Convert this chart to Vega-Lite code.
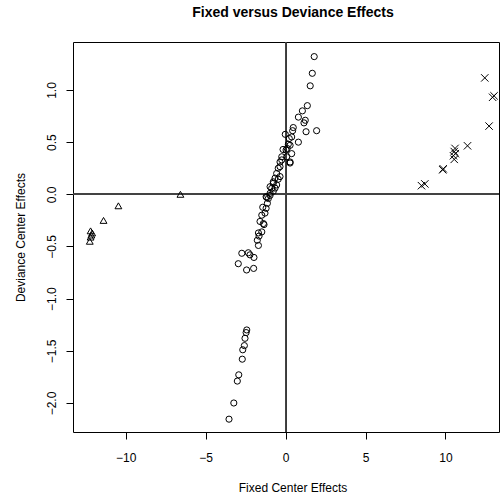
{
  "$schema": "https://vega.github.io/schema/vega-lite/v6.json",
  "width": 426,
  "height": 390,
  "autosize": "none",
  "padding": {"left": 73, "top": 42, "right": 1, "bottom": 64},
  "background": "white",
  "title": {"text": "Fixed versus Deviance Effects", "font": "Liberation Sans", "fontSize": 14, "fontWeight": "bold", "color": "black", "anchor": "middle", "dx": 7, "offset": 22},
  "config": {
    "view": {"stroke": "black", "strokeWidth": 1},
    "axis": {"grid": false, "domain": false, "tickColor": "black", "tickSize": 7, "labelFont": "Liberation Sans", "labelFontSize": 12, "labelColor": "black", "titleFont": "Liberation Sans", "titleFontSize": 12, "titleFontWeight": "normal", "titleColor": "black"}
  },
  "data": {"values": [
    {"g": "circle", "x": 1.79, "y": 1.32},
    {"g": "circle", "x": 1.67, "y": 1.16},
    {"g": "circle", "x": 1.54, "y": 1.04},
    {"g": "circle", "x": 1.36, "y": 0.85},
    {"g": "circle", "x": 1.05, "y": 0.80},
    {"g": "circle", "x": 0.80, "y": 0.74},
    {"g": "circle", "x": 1.23, "y": 0.71},
    {"g": "circle", "x": 1.15, "y": 0.685},
    {"g": "circle", "x": 1.94, "y": 0.61},
    {"g": "circle", "x": 1.28, "y": 0.60},
    {"g": "circle", "x": 0.48, "y": 0.64},
    {"g": "circle", "x": 0.44, "y": 0.61},
    {"g": "circle", "x": -0.02, "y": 0.575},
    {"g": "circle", "x": 0.38, "y": 0.55},
    {"g": "circle", "x": 0.80, "y": 0.50},
    {"g": "circle", "x": 0.23, "y": 0.535},
    {"g": "circle", "x": 0.17, "y": 0.48},
    {"g": "circle", "x": 0.28, "y": 0.47},
    {"g": "circle", "x": 0.10, "y": 0.44},
    {"g": "circle", "x": 0.38, "y": 0.39},
    {"g": "circle", "x": 0.03, "y": 0.425},
    {"g": "circle", "x": -0.16, "y": 0.43},
    {"g": "circle", "x": 0.28, "y": 0.30},
    {"g": "circle", "x": 0.07, "y": 0.36},
    {"g": "circle", "x": -0.24, "y": 0.36},
    {"g": "circle", "x": -0.24, "y": 0.33},
    {"g": "circle", "x": 0.28, "y": 0.31},
    {"g": "circle", "x": -0.35, "y": 0.31},
    {"g": "circle", "x": -0.35, "y": 0.265},
    {"g": "circle", "x": -0.46, "y": 0.25},
    {"g": "circle", "x": -0.56, "y": 0.20},
    {"g": "circle", "x": -0.35, "y": 0.17},
    {"g": "circle", "x": -0.46, "y": 0.145},
    {"g": "circle", "x": -0.66, "y": 0.155},
    {"g": "circle", "x": -0.56, "y": 0.09},
    {"g": "circle", "x": -0.77, "y": 0.105},
    {"g": "circle", "x": -0.66, "y": 0.06},
    {"g": "circle", "x": -0.87, "y": 0.057},
    {"g": "circle", "x": -0.77, "y": 0.03},
    {"g": "circle", "x": -0.97, "y": 0.01},
    {"g": "circle", "x": -0.97, "y": 0.073},
    {"g": "circle", "x": -0.77, "y": 0.12},
    {"g": "circle", "x": -0.97, "y": -0.01},
    {"g": "circle", "x": -1.18, "y": -0.03},
    {"g": "circle", "x": -1.08, "y": -0.04},
    {"g": "circle", "x": -1.22, "y": -0.023},
    {"g": "circle", "x": -1.14, "y": -0.086},
    {"g": "circle", "x": -1.43, "y": -0.124},
    {"g": "circle", "x": -1.22, "y": -0.134},
    {"g": "circle", "x": -1.29, "y": -0.18},
    {"g": "circle", "x": -1.49, "y": -0.20},
    {"g": "circle", "x": -1.60, "y": -0.26},
    {"g": "circle", "x": -1.39, "y": -0.28},
    {"g": "circle", "x": -1.35, "y": -0.29},
    {"g": "circle", "x": -1.49, "y": -0.36},
    {"g": "circle", "x": -1.70, "y": -0.37},
    {"g": "circle", "x": -1.66, "y": -0.40},
    {"g": "circle", "x": -1.77, "y": -0.44},
    {"g": "circle", "x": -1.70, "y": -0.49},
    {"g": "circle", "x": -2.74, "y": -0.565},
    {"g": "circle", "x": -2.33, "y": -0.56},
    {"g": "circle", "x": -2.23, "y": -0.58},
    {"g": "circle", "x": -1.98, "y": -0.605},
    {"g": "circle", "x": -2.96, "y": -0.665},
    {"g": "circle", "x": -2.44, "y": -0.725},
    {"g": "circle", "x": -2.00, "y": -0.71},
    {"g": "circle", "x": -2.43, "y": -1.30},
    {"g": "circle", "x": -2.47, "y": -1.325},
    {"g": "circle", "x": -2.54, "y": -1.38},
    {"g": "circle", "x": -2.58, "y": -1.45},
    {"g": "circle", "x": -2.68, "y": -1.49},
    {"g": "circle", "x": -2.71, "y": -1.58},
    {"g": "circle", "x": -2.93, "y": -1.73},
    {"g": "circle", "x": -3.02, "y": -1.79},
    {"g": "circle", "x": -3.24, "y": -2.00},
    {"g": "circle", "x": -3.54, "y": -2.155},
    {"g": "triangle", "x": -6.58, "y": 0.0},
    {"g": "triangle", "x": -10.46, "y": -0.11},
    {"g": "triangle", "x": -11.39, "y": -0.25},
    {"g": "triangle", "x": -12.2, "y": -0.35},
    {"g": "triangle", "x": -12.1, "y": -0.37},
    {"g": "triangle", "x": -12.15, "y": -0.39},
    {"g": "triangle", "x": -12.2, "y": -0.41},
    {"g": "triangle", "x": -12.25, "y": -0.45},
    {"g": "cross", "x": 12.46, "y": 1.116},
    {"g": "cross", "x": 13.04, "y": 0.944},
    {"g": "cross", "x": 12.95, "y": 0.93},
    {"g": "cross", "x": 12.73, "y": 0.654},
    {"g": "cross", "x": 11.38, "y": 0.465},
    {"g": "cross", "x": 10.6, "y": 0.44},
    {"g": "cross", "x": 10.55, "y": 0.41},
    {"g": "cross", "x": 10.62, "y": 0.39},
    {"g": "cross", "x": 10.5, "y": 0.37},
    {"g": "cross", "x": 10.55, "y": 0.335},
    {"g": "cross", "x": 9.86, "y": 0.245},
    {"g": "cross", "x": 9.83, "y": 0.235},
    {"g": "cross", "x": 8.71, "y": 0.10},
    {"g": "cross", "x": 8.5, "y": 0.083}
  ]},
  "layer": [
    {"mark": {"type": "rule", "color": "#444444", "strokeWidth": 0.9}, "encoding": {"x": {"datum": 0, "type": "quantitative"}}},
    {"mark": {"type": "rule", "color": "#444444", "strokeWidth": 0.9}, "encoding": {"y": {"datum": 0, "type": "quantitative"}}},
    {
      "mark": {"type": "point", "filled": false, "stroke": "black", "strokeWidth": 1, "opacity": 1},
      "encoding": {
        "x": {"field": "x", "type": "quantitative", "scale": {"domain": [-13.3, 13.35], "nice": false, "zero": false},
              "axis": {"values": [-10, -5, 0, 5, 10], "format": "d", "labelPadding": 13, "title": "Fixed Center Effects", "titleX": 219.5, "titleY": 55, "titleBaseline": "middle", "titleAlign": "center"}},
        "y": {"field": "y", "type": "quantitative", "scale": {"domain": [-2.278, 1.46], "nice": false, "zero": false},
              "axis": {"values": [-2, -1.5, -1, -0.5, 0, 0.5, 1], "format": ".1f", "labelAngle": -90, "labelAlign": "center", "labelBaseline": "bottom", "labelPadding": 8, "title": "Deviance Center Effects", "titleX": -53, "titleY": 195, "titleBaseline": "middle", "titleAlign": "center", "titleAngle": -90}},
        "shape": {"field": "g", "type": "nominal", "scale": {"domain": ["circle", "triangle", "cross"], "range": ["circle", "triangle-up", "M-1,-1L1,1M-1,1L1,-1"]}, "legend": null},
        "size": {"field": "g", "type": "nominal", "scale": {"domain": ["circle", "triangle", "cross"], "range": [38, 55, 30]}, "legend": null}
      }
    }
  ]
}
